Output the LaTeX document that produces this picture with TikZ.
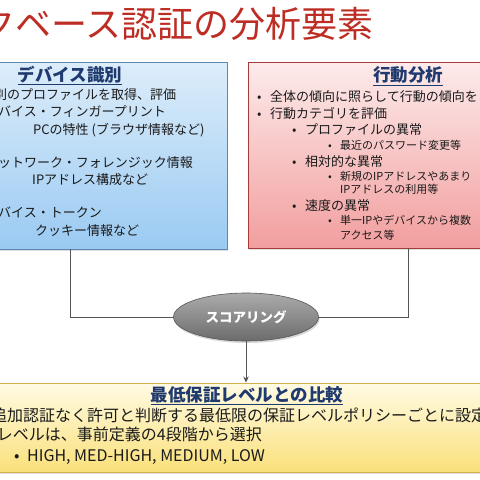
\documentclass[tikz,border=0pt]{standalone}
\usepackage{fontspec}
\setmainfont{Noto Sans CJK JP}
\usetikzlibrary{shapes.geometric,shadows,arrows.meta}
\definecolor{titlered}{HTML}{BE2D24}
\definecolor{navy}{HTML}{1F3A6E}
\definecolor{textc}{HTML}{1A1A1A}
\definecolor{bluetop}{HTML}{DDEDFA}
\definecolor{bluebot}{HTML}{9ACAF2}
\definecolor{blueedge}{HTML}{5B86B5}
\definecolor{redtop}{HTML}{FDEBEB}
\definecolor{redbot}{HTML}{F29E9E}
\definecolor{rededge}{HTML}{A83A3A}
\definecolor{yeltop}{HTML}{FFFBE4}
\definecolor{yelbot}{HTML}{FAE07A}
\definecolor{yeledge}{HTML}{D2B24C}
\definecolor{graytop}{HTML}{ABABAB}
\definecolor{graybot}{HTML}{6C6C6C}
\definecolor{lineg}{HTML}{555555}
\tikzset{
  panel/.style={draw, line width=0.9pt, rectangle, inner sep=0pt},
  hd/.style={inner sep=0pt, anchor=base, text=navy, font=\fontsize{17.5}{18}\selectfont\bfseries},
  bw/.style={inner sep=0pt, anchor=base west, text=textc, font=\fontsize{13}{15}\selectfont},
  sw/.style={inner sep=0pt, anchor=base west, text=textc, font=\fontsize{11}{13}\selectfont},
  yw/.style={inner sep=0pt, anchor=base west, text=textc, font=\fontsize{16}{18}\selectfont},
  ye/.style={inner sep=0pt, anchor=base east, text=textc, font=\fontsize{16}{18}\selectfont},
  conn/.style={draw=lineg, line width=0.9pt},
}
\begin{document}
\begin{tikzpicture}[x=1pt,y=-1pt]
\useasboundingbox (0,0) rectangle (480,480);
\clip (0,0) rectangle (480,480);
\fill[white] (0,0) rectangle (480,480);
% title
\node[inner sep=0pt, anchor=base east, text=titlered, font=\fontsize{36}{38}\selectfont] (title) at (374,37) {クベース認証の分析要素};
% panels
\node[panel, draw=blueedge, top color=bluetop, bottom color=bluebot, minimum width=237pt, minimum height=187pt, drop shadow={opacity=0.25,shadow xshift=1pt,shadow yshift=-1.5pt}] (blue) at (108.5,155.5) {};
\node[panel, draw=rededge, top color=redtop, bottom color=redbot, minimum width=242pt, minimum height=186pt, drop shadow={opacity=0.25,shadow xshift=1pt,shadow yshift=-1.5pt}] (red) at (369,155) {};
\node[panel, draw=yeledge, top color=yeltop, bottom color=yelbot, minimum width=500pt, minimum height=89pt, drop shadow={opacity=0.25,shadow xshift=1pt,shadow yshift=-1.5pt}] (yel) at (240,427.5) {};
% blue text
\node[hd] (bh) at (70,81.5) {\underline{デバイス識別}};
\node[bw] (b1) at (-6,99) {別のプロファイルを取得、評価};
\node[bw] (b2) at (-2,116) {バイス・フィンガープリント};
\node[bw] (b3) at (33,134) {PCの特性 (ブラウザ情報など)};
\node[bw] (b4) at (-2,167) {ットワーク・フォレンジック情報};
\node[bw] (b5) at (32,184) {IPアドレス構成など};
\node[bw] (b6) at (-2,217) {バイス・トークン};
\node[bw] (b7) at (35,235) {クッキー情報など};
% red text
\node[hd] (rh) at (408,81.5) {\underline{行動分析}};
\node[bw] (r1d) at (257,101) {•};
\node[bw] (r1) at (270,101) {全体の傾向に照らして行動の傾向を};
\node[bw] (r2d) at (257,118) {•};
\node[bw] (r2) at (270,118) {行動カテゴリを評価};
\node[bw] (r3d) at (292,134) {•};
\node[bw] (r3) at (305,134) {プロファイルの異常};
\node[sw] (r4d) at (328,149) {•};
\node[sw] (r4) at (340,149) {最近のパスワード変更等};
\node[bw] (r5d) at (292,166) {•};
\node[bw] (r5) at (305,166) {相対的な異常};
\node[sw] (r6d) at (328,180) {•};
\node[sw] (r6) at (340,180) {新規のIPアドレスやあまり};
\node[sw] (r7) at (340,193) {IPアドレスの利用等};
\node[bw] (r8d) at (292,210) {•};
\node[bw] (r8) at (305,210) {速度の異常};
\node[sw] (r9d) at (328,224) {•};
\node[sw] (r9) at (340,224) {単一IPやデバイスから複数};
\node[sw] (r10) at (340,239) {アクセス等};
% scoring ellipse
\node[ellipse, draw=graybot!80!black, line width=0.6pt, top color=graytop, bottom color=graybot, minimum width=145pt, minimum height=48pt, inner sep=0pt, text=white, font=\fontsize{13.5}{14}\selectfont\bfseries, drop shadow={opacity=0.3,shadow xshift=1pt,shadow yshift=-2pt}] (score) at (246,317) {スコアリング};
% connectors
\coordinate (lx) at (70,0);
\coordinate (rx) at (408,0);
\draw[conn] (blue.south -| lx) |- (score.west);
\draw[conn] (red.south -| rx) |- (score.east);
\draw[conn, -{Stealth[length=6pt,width=5.5pt]}] (score.south) -- (score.south |- yel.north);
% yellow text
\node[hd] (yh) at (247,401) {\underline{最低保証レベルとの比較}};
\node[yw] (y1) at (-9,421) {追加認証なく許可と判断する最低限の保証レベルポリシーごとに設定};
\node[ye] (y2) at (262,440) {レベルは、事前定義の4段階から選択};
\node[yw] (y3d) at (14,461) {•};
\node[yw] (y3) at (27,461) {HIGH, MED-HIGH, MEDIUM, LOW};
\end{tikzpicture}
\end{document}
